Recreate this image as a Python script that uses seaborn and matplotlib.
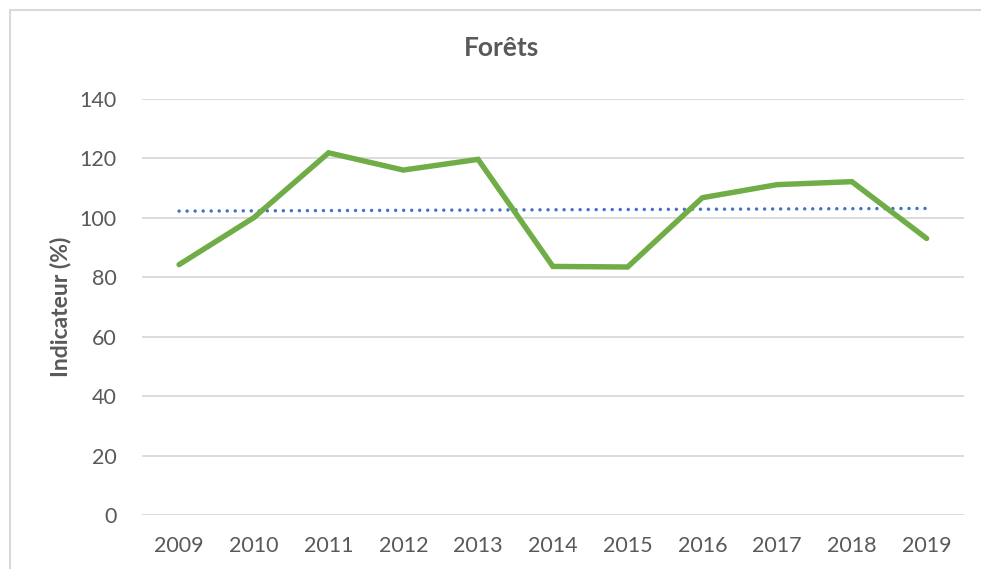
import matplotlib
matplotlib.use("Agg")
import matplotlib.pyplot as plt
import seaborn as sns
import pandas as pd
from matplotlib.patches import Rectangle

years = [2009, 2010, 2011, 2012, 2013, 2014, 2015, 2016, 2017, 2018, 2019]
indicateur = [84.3, 100.1, 121.9, 116.1, 119.7, 83.7, 83.5, 106.8, 111.2, 112.2, 93.1]
trend_years = [2009, 2019]
trend_values = [102.3, 103.2]
y_ticks = [0, 20, 40, 60, 80, 100, 120, 140]

sns.set_theme(style="white")
plt.rcParams['font.family'] = ['Lato', 'DejaVu Sans']

df = pd.DataFrame({"year": years, "value": indicateur})
df_trend = pd.DataFrame({"year": trend_years, "value": trend_values})

W, H = 981, 569
fig = plt.figure(figsize=(W / 100, H / 100), dpi=100)
ax = fig.add_axes([141.7 / W, (H - 515.3) / H, (964 - 141.7) / W, (515.3 - 99) / H])

sns.lineplot(data=df_trend, x="year", y="value", ax=ax, color="#4472C4",
             linewidth=2.5, linestyle=(0, (0.01, 2.3)), dash_capstyle="round", zorder=3)
sns.lineplot(data=df, x="year", y="value", ax=ax, color="#70AD47",
             linewidth=3.9, solid_capstyle="round", solid_joinstyle="miter", zorder=4)

ax.set_xlim(2008.5, 2019.5)
ax.set_ylim(0, 140)
ax.set_xticks(years)
ax.set_xticklabels([str(y) for y in years])
ax.set_yticks(y_ticks)
ax.set_yticklabels([str(t) for t in y_ticks])
ax.grid(axis="y", color="#D9D9D9", linewidth=1.3)
ax.grid(axis="x", visible=False)
ax.set_axisbelow(True)
for s in ax.spines.values():
    s.set_visible(False)
ax.tick_params(axis="both", length=0, colors="#595959")
ax.tick_params(axis="x", labelsize=15.5, pad=15)
ax.tick_params(axis="y", labelsize=15.5, pad=18)
ax.set_xlabel("")
ax.set_ylabel("Indicateur (%)", fontsize=16.5, fontweight="bold", color="#595959")
ax.yaxis.set_label_coords(-70 / (964 - 141.7), 0.5)

fig.text(501 / W, 1 - 48 / H, "Forêts", ha="center", va="center",
         fontsize=19, fontweight="bold", color="#595959")

fig.patches.append(Rectangle((10 / W, -0.1), 1.2, 1 - 10 / H + 0.1, transform=fig.transFigure,
                             fill=False, edgecolor="#D9D9D9", linewidth=1.5))

fig.savefig("out.png", dpi=100)
